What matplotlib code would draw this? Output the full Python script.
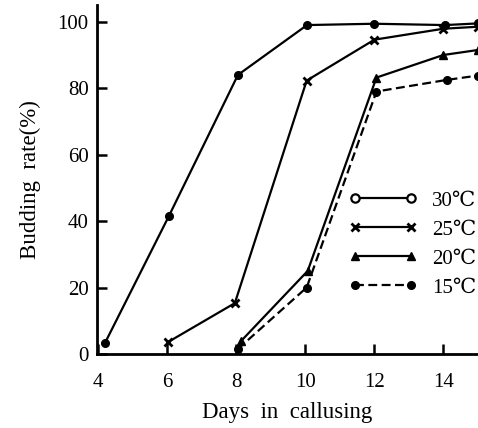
import matplotlib
matplotlib.use('Agg')
import matplotlib.pyplot as plt
from matplotlib.lines import Line2D

plt.rcParams['font.family'] = ['Liberation Serif', 'DejaVu Serif']

days_30 = [4.2, 6.05, 8.05, 10.05, 12.0, 14.05, 15.0]
rate_30 = [3.3, 41.5, 84, 99, 99.4, 99, 99.5]

days_25 = [6.03, 7.96, 10.04, 12.0, 14.0, 15.0]
rate_25 = [3.6, 15.3, 82.3, 94.6, 97.9, 98.5]

days_20 = [8.15, 10.07, 12.06, 14.0, 15.0]
rate_20 = [4.0, 25, 83.2, 90, 91.5]

days_15 = [8.05, 10.04, 12.06, 14.1, 15.0]
rate_15 = [1.5, 20, 79, 82.5, 83.8]

x_ticks = [4, 6, 8, 10, 12, 14]
y_ticks = [0, 20, 40, 60, 80, 100]
labels = ['30℃', '25℃', '20℃', '15℃']

fig = plt.figure(figsize=(4.78, 4.28), dpi=100)
ax = fig.add_axes([0.203, 0.173, 0.797, 0.815])

lw = 1.6
ax.plot(days_30, rate_30, '-', color='black', lw=lw, marker='o', ms=5.5, clip_on=False)
ax.plot(days_25, rate_25, '-', color='black', lw=lw, marker='x', ms=6, mew=2, clip_on=False)
ax.plot(days_20, rate_20, '-', color='black', lw=lw, marker='^', ms=6, clip_on=False)
ax.plot(days_15, rate_15, color='black', lw=lw, ls=(0, (4, 2)), marker='o', ms=5.5, clip_on=False)

ax.set_xlim(3.97, 15.0)
ax.set_ylim(0, 105)
ax.set_xticks(x_ticks)
ax.set_yticks(y_ticks)

for s in ['top', 'right']:
    ax.spines[s].set_visible(False)
for s in ['left', 'bottom']:
    ax.spines[s].set_linewidth(2)

ax.tick_params(axis='both', direction='in', length=7, width=1.8, labelsize=15)
ax.tick_params(axis='x', pad=14)
ax.tick_params(axis='y', pad=6)

ax.set_xlabel('Days  in  callusing', fontsize=16.5, labelpad=7)
ax.set_ylabel('Budding  rate(%)', fontsize=16.5, labelpad=12)

handles = [
    Line2D([], [], color='black', lw=lw, marker='o', ms=6, mfc='white', mew=1.6),
    Line2D([], [], color='black', lw=lw, marker='x', ms=6, mew=2),
    Line2D([], [], color='black', lw=lw, marker='^', ms=6),
    Line2D([], [], color='black', lw=lw, ls=(0, (4, 2)), marker='o', ms=5.5),
]
ax.legend(handles, labels, loc='center left', bbox_to_anchor=(0.638, 0.314),
          frameon=False, numpoints=2, handlelength=3.3, fontsize=15,
          labelspacing=0.45, handletextpad=0.7, borderaxespad=0)

fig.savefig('out.png', dpi=100)
